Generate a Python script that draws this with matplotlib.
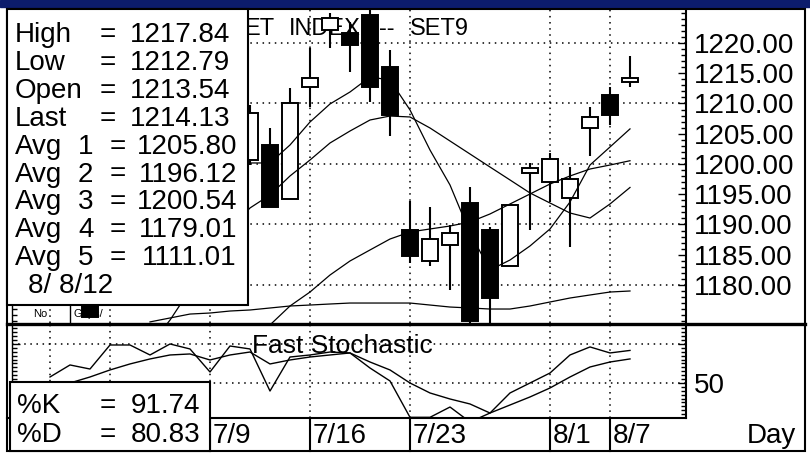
import matplotlib
matplotlib.use("Agg")
import matplotlib.pyplot as plt
import matplotlib.transforms as mtransforms
from matplotlib.patches import Rectangle
from matplotlib.ticker import FixedLocator, MultipleLocator

plt.rcParams['font.family'] = ['Liberation Sans', 'DejaVu Sans']

# ---- data (x = trading day slot) ----
cdl_idx = [4, 12, 13, 14, 15, 16, 17, 18, 19, 20, 21, 22, 23, 24, 25, 26, 27, 28, 29, 30, 31]
opens = [1180.0, 1200.66, 1203.14, 1194.21, 1212.73, 1222.15, 1221.65, 1224.63, 1216.03, 1189.09, 1183.97,
         1186.61, 1193.55, 1189.09, 1183.14, 1198.51, 1197.02, 1194.38, 1205.95, 1211.40, 1213.54]
highs = [1181.0, 1209.75, 1205.95, 1212.56, 1219.17, 1224.96, 1223.5, 1226.0, 1218.84, 1193.88, 1192.9,
         1189.9, 1196.2, 1189.6, 1193.22, 1200.17, 1201.82, 1199.5, 1209.42, 1212.73, 1217.84]
lows = [1174.7, 1199.83, 1192.89, 1194.21, 1209.42, 1219.17, 1215.2, 1210.25, 1204.63, 1183.64, 1183.14,
        1179.17, 1172.0, 1173.0, 1183.14, 1189.09, 1193.72, 1186.28, 1201.32, 1206.45, 1212.79]
closes = [1174.7, 1208.43, 1192.89, 1210.08, 1214.21, 1224.13, 1219.67, 1212.73, 1208.1, 1184.79, 1187.6,
          1188.6, 1174.0, 1177.85, 1193.22, 1199.34, 1200.83, 1197.52, 1207.77, 1208.10, 1214.13]

avg1_start = 11
avg1 = [1199.5, 1200.17, 1200.17, 1203.14, 1206.94, 1209.92, 1211.9, 1214.38, 1213.88, 1208.93, 1202.31,
        1196.53, 1188.6, 1182.48, 1184.13, 1186.45, 1189.26, 1193.72, 1199.83, 1202.81, 1205.80]
avg2_start = 7
avg2 = [1170.0, 1174.2, 1179.2, 1184.5, 1189.1, 1192.73, 1194.88, 1198.02, 1200.66, 1203.47, 1205.45,
        1207.27, 1207.93, 1207.77, 1205.95, 1203.8, 1201.65, 1199.5, 1197.36, 1195.21, 1193.55, 1191.9,
        1191.07, 1193.39, 1196.12]
avg3_start = 12
avg3 = [1170.0, 1173.4, 1176.53, 1178.84, 1181.65, 1183.97, 1185.79, 1187.6, 1188.76, 1189.26, 1189.75,
        1190.41, 1191.74, 1193.39, 1195.04, 1196.69, 1198.02, 1199.17, 1199.83, 1200.54]
avg4_start = 7
avg4 = [1173.9, 1174.55, 1175.2, 1175.37, 1175.7, 1175.87, 1176.2, 1176.53, 1176.69, 1176.86, 1177.02,
        1177.02, 1177.02, 1177.02, 1176.69, 1176.36, 1176.2, 1176.03, 1176.03, 1176.53, 1177.19, 1177.85,
        1178.35, 1178.84, 1179.01]

k_start = 2
pct_k = [57.7, 73.1, 67.9, 98.7, 98.7, 85.9, 100.0, 93.6, 64.1, 97.4, 93.6, 39.7, 83.3, 85.9, 89.7, 88.5,
         69.2, 52.6, 6.0, 6.0, 19.2, 0.0, 11.5, 37.2, 50.0, 62.8, 85.9, 96.2, 88.5, 91.74]
d_start = 3
pct_d = [50.0, 57.7, 66.7, 74.4, 80.8, 85.9, 87.2, 79.5, 85.9, 89.7, 74.4, 79.5, 83.3, 85.9, 88.5, 76.9,
         66.7, 50.0, 37.2, 29.5, 23.1, 11.5, 21.8, 32.1, 43.6, 57.7, 70.5, 76.9, 80.83]

grid_idx = [2, 5, 10, 15, 20, 27, 30]
date_idx = [10, 15, 20, 27, 30]
date_lbl = ['7/9', '7/16', '7/23', '8/1', '8/7']
price_grid = [1180, 1190, 1200, 1210, 1220]
price_lbl = [1180, 1185, 1190, 1195, 1200, 1205, 1210, 1215, 1220]
stoch_grid = [50, 100]

info_names = ['High', 'Low', 'Open', 'Last']
info_vals = [1217.84, 1212.79, 1213.54, 1214.13]
avg_vals = [1205.80, 1196.12, 1200.54, 1179.01, 1111.01]
last_date = '8/ 8/12'
k_last = 91.74
d_last = 80.83

W, H = 810, 457
fig = plt.figure(figsize=(W / 100, H / 100), dpi=100)
fig.patch.set_facecolor('white')


def px_axes(x0, y0, x1, y1, **kw):
    return fig.add_axes([x0 / W, 1 - y1 / H, (x1 - x0) / W, (y1 - y0) / H], **kw)


dots = (0, (1, 3))

# overlay in pixel units (frames, boxes, labels)
ov = px_axes(0, 0, W, H, zorder=5)
ov.set_xlim(0, W)
ov.set_ylim(H, 0)
ov.axis('off')

# ---- price panel ----
ax = px_axes(12, 10, 686, 323)
ax.set_xlim(0.1, 33.8)
ax.set_ylim(1173.72, 1225.45)
for p in price_grid:
    ax.axhline(p, color='black', lw=1.1, ls=dots, zorder=1)
for g in grid_idx:
    ax.axvline(g, color='black', lw=1.1, ls=dots, zorder=1)

# title: its first letter sits under the info box
ax.text(244, 35, 'ET', transform=ov.transData, fontsize=17, zorder=0.5)
ax.text(289, 35, 'INDEX', transform=ov.transData, fontsize=17, zorder=0.5)
ax.text(379, 35, '--', transform=ov.transData, fontsize=17, zorder=0.5)
ax.text(410, 35, 'SET9', transform=ov.transData, fontsize=17, zorder=0.5)
ax.text(33, 317, 'No', transform=ov.transData, fontsize=8, zorder=0.5)
ax.text(74, 317, 'Gaps/', transform=ov.transData, fontsize=8, zorder=0.5)

fills = ['white' if c >= o else 'black' for o, c in zip(opens, closes)]
bottoms = [min(o, c) for o, c in zip(opens, closes)]
heights = [abs(c - o) for o, c in zip(opens, closes)]
ax.vlines(cdl_idx, lows, highs, colors='black', lw=1.5, zorder=2)
ax.bar(cdl_idx, heights, width=0.8, bottom=bottoms, color=fills, edgecolor='black', lw=1.4, zorder=3)

for start, vals in [(avg1_start, avg1), (avg2_start, avg2), (avg3_start, avg3), (avg4_start, avg4)]:
    ax.plot(range(start, start + len(vals)), vals, color='black', lw=0.9, zorder=4)

ax.yaxis.set_major_locator(FixedLocator(price_lbl))
ax.yaxis.set_minor_locator(MultipleLocator(1))
ax.set_yticklabels(['%.2f' % v for v in price_lbl])
ax.tick_params(axis='y', which='both', direction='in', left=True, right=True,
               labelleft=False, labelright=True, labelsize=20, pad=6, width=1)
ax.tick_params(axis='y', which='major', length=6)
ax.tick_params(axis='y', which='minor', length=3.5)
ax.set_xticks([])

# ---- stochastic panel ----
st = px_axes(12, 324, 686, 418)
st.set_xlim(0.1, 33.8)
st.set_ylim(5.13, 125.6)
for v in stoch_grid:
    st.axhline(v, color='black', lw=1.1, ls=dots, zorder=1)
for g in grid_idx:
    st.axvline(g, color='black', lw=1.1, ls=dots, zorder=1)
st.text(252, 353, 'Fast Stochastic', transform=ov.transData, fontsize=19, zorder=0.5)
st.plot(range(k_start, k_start + len(pct_k)), pct_k, color='black', lw=1.0, zorder=3)
st.plot(range(d_start, d_start + len(pct_d)), pct_d, color='black', lw=1.0, zorder=3)

st.yaxis.set_major_locator(FixedLocator(stoch_grid))
st.yaxis.set_minor_locator(MultipleLocator(5))
st.set_yticklabels(['50', ''])
st.tick_params(axis='y', which='both', direction='in', left=True, right=True,
               labelleft=False, labelright=True, labelsize=20, pad=6, width=1)
st.tick_params(axis='y', which='major', length=6)
st.tick_params(axis='y', which='minor', length=3.5)
st.set_xticks([])

for a in (ax, st):
    a.spines['top'].set_visible(False)
    a.spines['bottom'].set_visible(False)
    a.spines['left'].set_linewidth(1.0)
    a.spines['right'].set_linewidth(1.5)

# ---- frames, boxes and labels ----
ov.add_patch(Rectangle((0, 0), W, 7, color='#0c1c6c', zorder=1))
ov.add_patch(Rectangle((7, 9), 798, 442, fill=False, edgecolor='black', lw=1.5, zorder=2))
ov.plot([7, 805], [323.5, 323.5], color='black', lw=2.4, zorder=2)
ov.plot([7, 686], [418, 418], color='black', lw=1.5, zorder=2)
ov.plot([70, 70], [305, 323], color='black', lw=1.0, zorder=2)

bl = mtransforms.blended_transform_factory(st.transData, ov.transData)
lbl_tr = mtransforms.offset_copy(bl, fig=fig, x=3, y=0, units='dots')
for i, lbl in zip(date_idx, date_lbl):
    ov.plot([i, i], [418, 451], transform=bl, color='black', lw=1.5, zorder=2)
    ov.text(i, 443, lbl, transform=lbl_tr, fontsize=20, zorder=3)
ov.text(747, 443, 'Day', fontsize=20, zorder=3)

# info box
ov.add_patch(Rectangle((7, 9), 241, 296, facecolor='white', edgecolor='black', lw=1.5, zorder=4))
row = 0
for name, val in zip(info_names, info_vals):
    y = 42 + 27.9 * row
    ov.text(15, y, name, fontsize=20, zorder=5)
    ov.text(100, y, '=', fontsize=20, zorder=5)
    ov.text(230, y, '%.2f' % val, fontsize=20, ha='right', zorder=5)
    row += 1
for n, val in enumerate(avg_vals, start=1):
    y = 42 + 27.9 * row
    ov.text(15, y, 'Avg', fontsize=20, zorder=5)
    ov.text(78, y, str(n), fontsize=20, zorder=5)
    ov.text(110, y, '=', fontsize=20, zorder=5)
    ov.text(237, y, '%.2f' % val, fontsize=20, ha='right', zorder=5)
    row += 1
ov.text(28, 42 + 27.9 * row, last_date, fontsize=20, zorder=5)

# %K / %D box
ov.add_patch(Rectangle((10, 382), 200, 69, facecolor='white', edgecolor='black', lw=1.5, zorder=4))
for y, name, val in [(413, '%K', k_last), (442, '%D', d_last)]:
    ov.text(17, y, name, fontsize=20, zorder=5)
    ov.text(100, y, '=', fontsize=20, zorder=5)
    ov.text(200, y, '%.2f' % val, fontsize=20, ha='right', zorder=5)

fig.savefig('out.png', dpi=100)
